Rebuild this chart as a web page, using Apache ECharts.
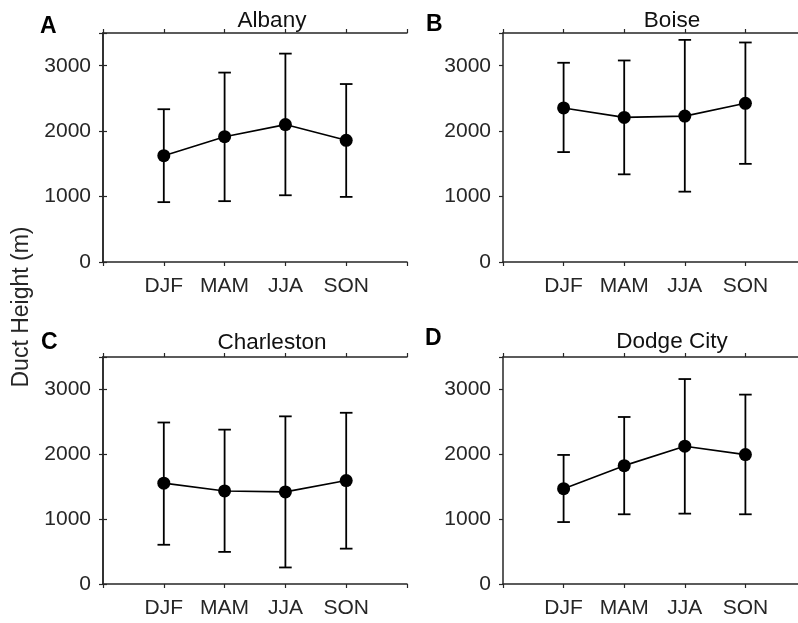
<!DOCTYPE html>
<html lang="en-US">
  <head>
    <meta charset='utf-8'>
    <title>Duct height by season</title>
    <script type="text/javascript" src="https://cdn.jsdelivr.net/npm/echarts@6/dist/echarts.min.js"></script>
    <style>
      html, body { margin: 0; padding: 0; background: #fff; overflow: hidden; }
      #chart { width: 798px; height: 623px; }
    </style>
  </head>
  <body>
    <div id="chart"></div>
    <script type="text/javascript">
        // seasons and stations
        var seasons  = ['DJF', 'MAM', 'JJA', 'SON'];
        var stations = ['Albany', 'Boise', 'Charleston', 'Dodge City'];
        var letters  = ['A', 'B', 'C', 'D'];
        var yTicks   = [0, 1000, 2000, 3000];

        // mean duct height (m) and error bar ends
        var albanyMean  = [1625, 1915, 2100, 1860];
        var albanyHigh  = [2335, 2895, 3185, 2720];
        var albanyLow   = [915, 930, 1020, 995];

        var boiseMean   = [2355, 2210, 2230, 2425];
        var boiseHigh   = [3045, 3080, 3395, 3355];
        var boiseLow    = [1680, 1340, 1075, 1500];

        var charlestonMean = [1555, 1435, 1420, 1595];
        var charlestonHigh = [2490, 2380, 2585, 2640];
        var charlestonLow  = [605, 495, 255, 545];

        var dodgeMean   = [1470, 1825, 2125, 1995];
        var dodgeHigh   = [1990, 2575, 3160, 2920];
        var dodgeLow    = [955, 1075, 1085, 1075];

        var means = [albanyMean, boiseMean, charlestonMean, dodgeMean];
        var highs = [albanyHigh, boiseHigh, charlestonHigh, dodgeHigh];
        var lows  = [albanyLow, boiseLow, charlestonLow, dodgeLow];

        var dark = '#262626';
        var font = '"Liberation Sans", Arial, Helvetica, sans-serif';

        // right-hand panels run past the edge of the picture, as in the original
        var boxes = [
            { left: 103, top: 33,  width: 304, height: 229 },
            { left: 503, top: 33,  width: 303, height: 229 },
            { left: 103, top: 357, width: 304, height: 227 },
            { left: 503, top: 357, width: 303, height: 227 }
        ];
        // where the panel titles and letters sit
        var titlePos  = [[272, 21], [672, 21], [272, 343], [672, 342]];
        var letterPos = [[40, 27], [426, 25], [41, 343], [425, 339]];

        var grids = [], xAxes = [], yAxes = [], series = [], texts = [];

        for (var i = 0; i < 4; i++) {
            var b = boxes[i];
            grids.push({
                left: b.left, top: b.top, width: b.width, height: b.height,
                containLabel: false, outerBoundsMode: 'none'
            });

            var xBase = {
                type: 'value', gridIndex: i, min: 0, max: 5, interval: 1,
                axisLine: { show: true, onZero: false, lineStyle: { color: dark, width: 1.5 } },
                axisTick: { show: true, inside: false, length: 4, lineStyle: { color: dark, width: 1.2 } },
                splitLine: { show: false }
            };
            xAxes.push(Object.assign({}, xBase, {
                position: 'bottom',
                axisLabel: {
                    show: true, color: dark, fontSize: 21, fontFamily: font, margin: 14,
                    formatter: function (v) { return (v >= 1 && v <= 4) ? seasons[v - 1] : ''; }
                }
            }));
            xAxes.push(Object.assign({}, xBase, { position: 'top', axisLabel: { show: false } }));

            var yBase = {
                type: 'value', gridIndex: i, min: 0, max: 3500, interval: 1000,
                axisLine: { show: true, lineStyle: { color: dark, width: 1.5 } },
                axisTick: { show: true, inside: false, length: 4, lineStyle: { color: dark, width: 1.2 } },
                splitLine: { show: false }
            };
            yAxes.push(Object.assign({}, yBase, {
                position: 'left',
                axisLabel: {
                    show: true, color: dark, fontSize: 21, fontFamily: font, margin: 12,
                    formatter: function (v) { return yTicks.indexOf(v) >= 0 ? String(v) : ''; }
                }
            }));
            // the right edge of B and D is cut off in the original
            yAxes.push(Object.assign({}, yBase, {
                position: 'right', show: i % 2 === 0, axisLabel: { show: false }
            }));

            var pts = [], bars = [];
            for (var j = 0; j < seasons.length; j++) {
                pts.push([j + 1, means[i][j]]);
                bars.push([j + 1, lows[i][j], highs[i][j]]);
            }

            series.push({
                type: 'custom',
                xAxisIndex: i * 2, yAxisIndex: i * 2,
                data: bars,
                renderItem: function (params, api) {
                    var x = api.value(0);
                    var lo = api.coord([x, api.value(1)]);
                    var hi = api.coord([x, api.value(2)]);
                    var w = 6.3;
                    var st = { stroke: '#000', lineWidth: 1.8 };
                    return {
                        type: 'group',
                        children: [
                            { type: 'line', shape: { x1: lo[0], y1: lo[1], x2: hi[0], y2: hi[1] }, style: st },
                            { type: 'line', shape: { x1: lo[0] - w, y1: lo[1], x2: lo[0] + w, y2: lo[1] }, style: st },
                            { type: 'line', shape: { x1: hi[0] - w, y1: hi[1], x2: hi[0] + w, y2: hi[1] }, style: st }
                        ]
                    };
                },
                z: 2
            });
            series.push({
                type: 'line',
                xAxisIndex: i * 2, yAxisIndex: i * 2,
                data: pts,
                symbol: 'circle', symbolSize: 13,
                lineStyle: { color: '#000', width: 1.6 },
                itemStyle: { color: '#000' },
                z: 3
            });

            texts.push({
                type: 'text', x: titlePos[i][0], y: titlePos[i][1],
                style: {
                    text: stations[i], fill: '#111', fontSize: 22.5, fontFamily: font,
                    textAlign: 'center', textVerticalAlign: 'middle'
                }
            });
            texts.push({
                type: 'text', x: letterPos[i][0], y: letterPos[i][1],
                style: {
                    text: letters[i], fill: '#000', fontSize: 23, fontWeight: 'bold', fontFamily: font,
                    textAlign: 'left', textVerticalAlign: 'middle'
                }
            });
        }

        texts.push({
            type: 'text',
            x: 22, y: 307, rotation: Math.PI / 2,
            style: {
                text: 'Duct Height (m)', fill: dark, fontSize: 23, fontFamily: font,
                textAlign: 'center', textVerticalAlign: 'middle'
            }
        });

        var chart = echarts.init(document.getElementById('chart'));
        chart.setOption({
            animation: false,
            backgroundColor: '#fff',
            grid: grids,
            xAxis: xAxes,
            yAxis: yAxes,
            series: series,
            graphic: texts
        });
    </script>
  </body>
</html>
